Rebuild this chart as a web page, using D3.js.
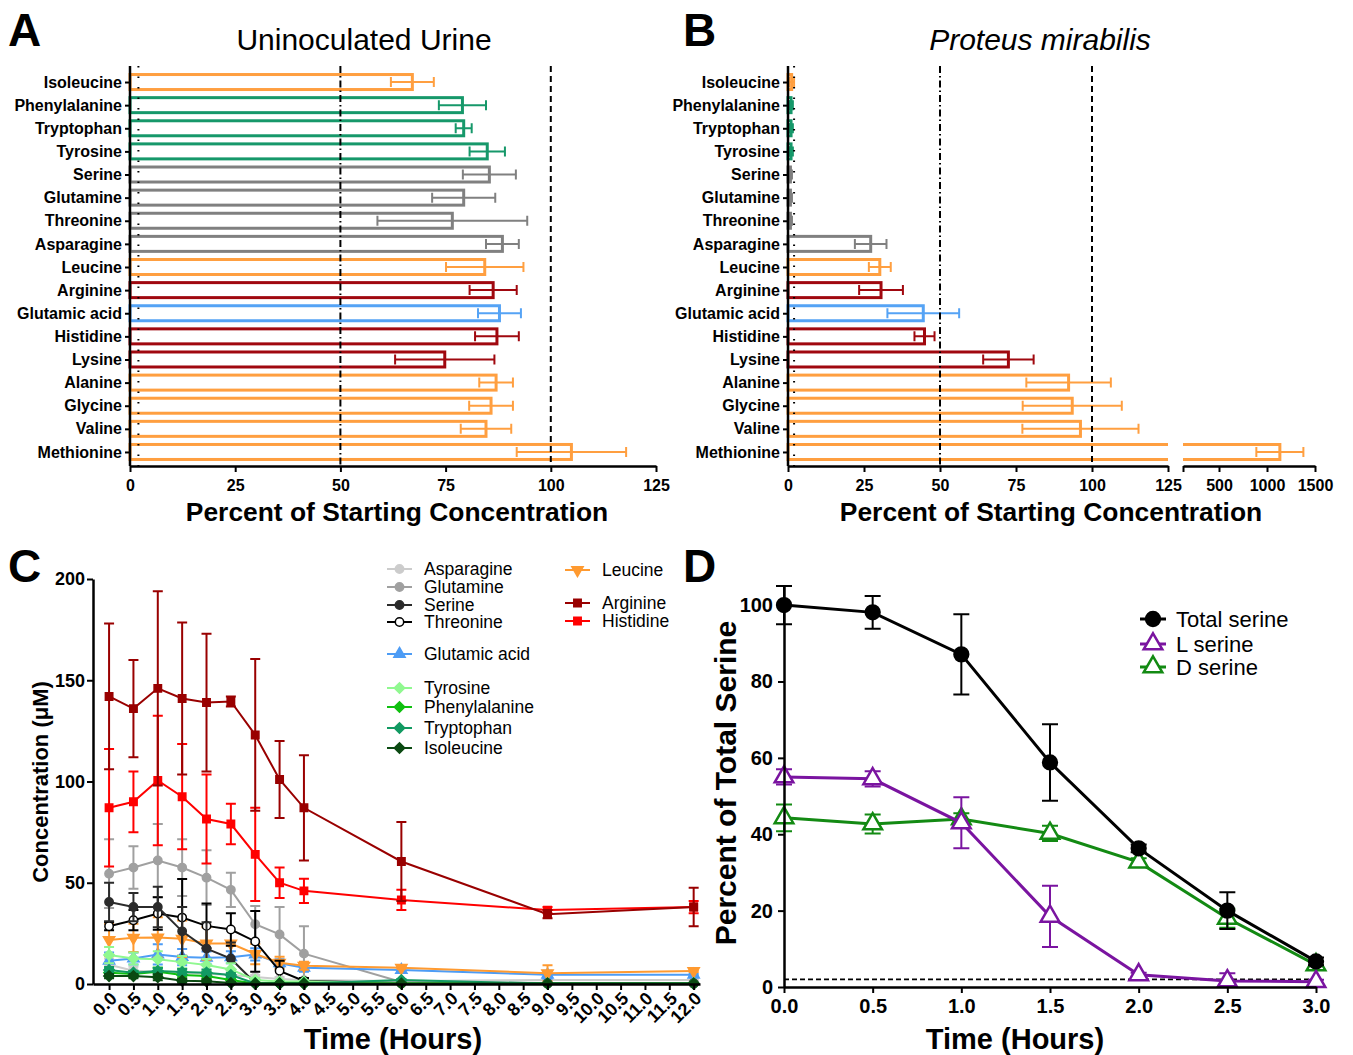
<!DOCTYPE html>
<html>
<head>
<meta charset="utf-8">
<script src="https://cdn.jsdelivr.net/npm/d3@7/dist/d3.min.js"></script>
<style>
  body { margin: 0; background: #fff; }
  svg { display: block; }
</style>
</head>
<body>
<svg id="chart" width="1353" height="1055"></svg>
<script>
"use strict";

// ---------- panels A and B: percent of starting concentration ----------
var aminoAcids = ["Isoleucine", "Phenylalanine", "Tryptophan", "Tyrosine", "Serine", "Glutamine",
  "Threonine", "Asparagine", "Leucine", "Arginine", "Glutamic acid", "Histidine", "Lysine",
  "Alanine", "Glycine", "Valine", "Methionine"];
var aminoClass = ["nonpolar", "aromatic", "aromatic", "aromatic", "polar", "polar", "polar", "polar",
  "nonpolar", "basic", "acidic", "basic", "basic", "nonpolar", "nonpolar", "nonpolar", "nonpolar"];
var urineMean = [67.1, 79.0, 79.3, 84.9, 85.4, 79.3, 76.6, 88.5, 84.3, 86.3, 87.8, 87.2, 74.8, 87.0, 85.8, 84.6, 104.9];
var urineErr = [5.1, 5.6, 1.9, 4.2, 6.3, 7.5, 17.8, 3.9, 9.2, 5.6, 5.1, 5.2, 11.8, 4.0, 5.2, 6.0, 13.0];
var proteusMean = [1.2, 1.0, 1.0, 1.0, 0.8, 0.8, 0.8, 27.2, 30.2, 30.6, 44.5, 44.9, 72.5, 92.3, 93.5, 96.2, 1134];
var proteusErr = [0.8, 0.6, 0.6, 0.6, 0.5, 0.5, 0.5, 5.2, 3.6, 7.2, 11.8, 3.3, 8.3, 13.9, 16.3, 19.1, 245];
var barTicks = [0, 25, 50, 75, 100, 125];
var highTicks = [125, 500, 1000, 1500];

// ---------- panel C: concentration over time (uM) ----------
var times = [0, 0.5, 1, 1.5, 2, 2.5, 3, 3.5, 4, 6, 9, 12];
var asparagine = [9.5, 6.5, 6, 5.5, 5, 4.5, 3.5, 2.5, 2, 1.5, 2, 2];
var asparagineSd = [3, 2, 2, 2, 2, 2, 1, 1, 1, 0.5, 0.5, 0.5];
var glutamine = [54.5, 57.5, 61, 57.5, 52.5, 46.5, 29.5, 24.5, 15, 1, 0.5, 0.5];
var glutamineSd = [17, 10.5, 18, 14, 13.5, 8.5, 9, 13.5, 13.5, 0.5, 0.3, 0.3];
var serine = [40.5, 38, 38, 26, 17.5, 12.5, 0.5, 0.5, 0.5, 0.3, 0.3, 0.3];
var serineSd = [9.5, 7, 10, 12, 13, 8, 0.5, 0.5, 0.5, 0.2, 0.2, 0.2];
var threonine = [28.5, 31.5, 34.8, 32.8, 28.7, 26.9, 21, 6.5, 1.5, 0.5, 0.3, 0.3];
var threonineSd = [2, 5, 8, 19, 11, 8, 15, 5, 1.5, 0.3, 0.2, 0.2];
var glutamicAcid = [11.5, 12.6, 14.6, 13.3, 13, 13.2, 14.6, 10.2, 8, 6.9, 4.6, 4.6];
var glutamicAcidSd = [4, 3, 5, 4, 3, 3, 3, 2, 2, 1.5, 2, 0.5];
var tyrosine = [14.3, 12.6, 12.2, 10.8, 9.4, 7.2, 2, 1.2, 1.2, 0.5, 0.3, 0.3];
var tyrosineSd = [4, 3, 4, 3, 3, 3, 1, 0.5, 0.5, 0.2, 0.2, 0.2];
var phenylalanine = [5.6, 4.9, 6, 4.4, 3.9, 2, 0.3, 0.3, 0.3, 0.3, 0.2, 0.2];
var phenylalanineSd = [1.5, 1.5, 2, 1.5, 1.5, 1, 0.2, 0.2, 0.2, 0.2, 0.2, 0.2];
var tryptophan = [6.9, 5.6, 6.4, 5.9, 5.6, 4.4, 0.3, 0.3, 0.3, 2, 0.2, 0.2];
var tryptophanSd = [1.5, 1, 1.5, 1.5, 1.5, 1, 0.2, 0.2, 0.2, 0.5, 0.2, 0.2];
var isoleucine = [3.9, 3.9, 3.3, 1.6, 1.3, 0.5, 0.2, 0.2, 0.2, 0.2, 0.2, 0.2];
var isoleucineSd = [1, 1, 1.5, 1, 1, 0.5, 0.2, 0.2, 0.2, 0.2, 0.2, 0.2];
var leucine = [21.7, 22.8, 23, 22.3, 20, 20, 14.8, 10.5, 9, 8, 5.3, 6.4];
var leucineSd = [8, 7, 10, 9, 8, 1, 5, 3, 2, 0.5, 4, 0.5];
var arginine = [142, 136, 146, 141, 139, 139.5, 123, 101, 87, 60.5, 34.5, 38];
var arginineSd = [36, 24, 48, 37.5, 34, 2.5, 37.5, 19, 26, 19.5, 2, 9.5];
var histidine = [87, 90, 100.5, 92.5, 81.5, 79, 64, 50, 46, 41.5, 36.5, 38];
var histidineSd = [29, 15, 32, 26, 22, 10, 23, 7.5, 6, 5, 1.5, 3];

// ---------- panel D: percent of total serine ----------
var serineTimes = [0, 0.5, 1, 1.5, 2, 2.5, 3];
var totalSerine = [100, 98.1, 87.1, 58.8, 36.3, 20, 6.7];
var totalSerineSd = [5, 4.3, 10.5, 10, 1, 4.8, 1];
var lSerine = [55, 54.5, 43, 18.5, 3.2, 1.6, 1.4];
var lSerineSd = [2, 2, 6.7, 8, 0.5, 2, 0.5];
var dSerine = [44.3, 42.7, 44, 40.2, 32.7, 18, 5.8];
var dSerineSd = [3.5, 2.5, 1.5, 2, 1, 2.5, 1];
var detectionLimit = 2;

var FONT = '"Liberation Sans", Arial, Helvetica, sans-serif';
var classColor = { nonpolar: "#ff9f40", aromatic: "#16986a", polar: "#808080", basic: "#a0080f", acidic: "#55a3f5" };

var svg = d3.select("#chart");

function label(txt, x, y, size, opts) {
  opts = opts || {};
  var t = svg.append("text")
    .attr("x", x).attr("y", y)
    .attr("font-family", FONT)
    .attr("font-size", size)
    .attr("font-weight", opts.bold ? "bold" : "normal")
    .attr("font-style", opts.italic ? "italic" : "normal")
    .attr("text-anchor", opts.anchor || "start")
    .attr("fill", "#000")
    .text(txt);
  if (opts.rotate) t.attr("transform", `rotate(${opts.rotate},${x},${y})`);
  return t;
}

function styleAxis(sel, size) {
  sel.select(".domain").attr("stroke", "#000").attr("stroke-width", 2.5);
  sel.selectAll(".tick line").attr("stroke", "#000").attr("stroke-width", 2);
  sel.selectAll(".tick text")
    .attr("font-family", FONT)
    .attr("font-weight", "bold")
    .attr("font-size", size)
    .attr("fill", "#000");
}

// bar chart with error bars, xHigh is the scale after the axis break (B only)
function barPanel(means, errs, xLow, xHigh) {
  var g = svg.append("g");
  var y = d3.scalePoint().domain(aminoAcids).range([67, 467]).padding(0.65);
  var x0 = xLow(0);
  var h = 15;
  aminoAcids.forEach(function (name, i) {
    var color = classColor[aminoClass[i]];
    var m = means[i], e = errs[i];
    var cy = y(name);
    var xs = m > 125 ? xHigh : xLow;
    if (m <= 125) {
      g.append("rect")
        .attr("x", x0).attr("y", cy - h / 2)
        .attr("width", xLow(m) - x0).attr("height", h)
        .attr("fill", "#fff").attr("stroke", color).attr("stroke-width", 3);
    } else {
      // broken bar: open on the right of the low part, open on the left of the high part
      g.append("path")
        .attr("d", `M${xLow(125)},${cy - h / 2}H${x0}V${cy + h / 2}H${xLow(125)}`)
        .attr("fill", "none").attr("stroke", color).attr("stroke-width", 3);
      g.append("path")
        .attr("d", `M${xHigh(125)},${cy - h / 2}H${xHigh(m)}V${cy + h / 2}H${xHigh(125)}`)
        .attr("fill", "none").attr("stroke", color).attr("stroke-width", 3);
    }
    var a = xs(m - e), b = xs(m + e);
    g.append("path")
      .attr("d", `M${a},${cy}H${b}M${a},${cy - 5}V${cy + 5}M${b},${cy - 5}V${cy + 5}`)
      .attr("fill", "none").attr("stroke", color).attr("stroke-width", 2);
  });
  // reference lines: 2 %, 50 %, 100 %
  [[2, "1.5,9"], [50, "7,3,1.5,3"], [100, "6,4"]].forEach(function (r) {
    g.append("line")
      .attr("x1", xLow(r[0])).attr("x2", xLow(r[0]))
      .attr("y1", 66).attr("y2", 466)
      .attr("stroke", "#000").attr("stroke-width", 2)
      .attr("stroke-dasharray", r[1]);
  });
  g.append("g")
    .attr("transform", `translate(${x0},0)`)
    .call(d3.axisLeft(y).tickSize(5).tickPadding(3).tickSizeOuter(0))
    .call(styleAxis, 16)
    .call((a) => a.select(".domain").attr("d", "M0,66V466"));
  g.append("g")
    .attr("transform", "translate(0,466)")
    .call(d3.axisBottom(xLow).tickValues(barTicks).tickSize(6).tickPadding(8).tickSizeOuter(0))
    .call(styleAxis, 16);
  if (xHigh) {
    g.append("g")
      .attr("transform", "translate(0,466)")
      .call(d3.axisBottom(xHigh).tickValues(highTicks).tickSize(6).tickPadding(8).tickSizeOuter(0)
        .tickFormat((d) => (d === 125 ? "" : d)))
      .call(styleAxis, 16);
  }
}

var xA = d3.scaleLinear().domain([0, 125]).range([130, 656]);
barPanel(urineMean, urineErr, xA);
var xB = d3.scaleLinear().domain([0, 125]).range([788, 1168]);
var xBhigh = d3.scaleLinear().domain([125, 1500]).range([1183, 1315]);
barPanel(proteusMean, proteusErr, xB, xBhigh);

label("Uninoculated Urine", 364, 50, 30, { anchor: "middle" });
label("Proteus mirabilis", 1040, 50, 30, { anchor: "middle", italic: true });
label("Percent of Starting Concentration", 397, 521, 26.4, { anchor: "middle", bold: true });
label("Percent of Starting Concentration", 1051, 521, 26.4, { anchor: "middle", bold: true });

// ---------- line chart helpers ----------
var symbols = {
  circle: { type: d3.symbolCircle, rot: 0 },
  triangle: { type: d3.symbolTriangle, rot: 0 },
  triangleDown: { type: d3.symbolTriangle, rot: 180 },
  square: { type: d3.symbolSquare, rot: 0 },
  diamond: { type: d3.symbolSquare, rot: 45 }
};

function drawMarker(g, sym, size, cx, cy, color, fill, sw) {
  g.append("path")
    .attr("d", d3.symbol().type(symbols[sym].type).size(size)())
    .attr("transform", `translate(${cx},${cy}) rotate(${symbols[sym].rot})`)
    .attr("fill", fill || color)
    .attr("stroke", color)
    .attr("stroke-width", sw);
}

function drawSeries(g, x, y, ts, s, st) {
  var line = d3.line().x((d, i) => x(ts[i])).y((d) => y(d));
  g.append("path")
    .attr("d", line(s.values))
    .attr("fill", "none")
    .attr("stroke", s.color)
    .attr("stroke-width", st.lineWidth);
  s.values.forEach(function (v, i) {
    var cx = x(ts[i]);
    var y1 = y(v + s.sd[i]), y2 = y(Math.max(0, v - s.sd[i]));
    var c = st.cap;
    g.append("path")
      .attr("d", `M${cx},${y1}V${y2}M${cx - c},${y1}H${cx + c}M${cx - c},${y2}H${cx + c}`)
      .attr("fill", "none").attr("stroke", s.color).attr("stroke-width", st.errWidth);
  });
  s.values.forEach(function (v, i) {
    drawMarker(g, s.symbol, st.marker, x(ts[i]), y(v), s.color, s.fill, st.markerStroke);
  });
}

// ---------- panel C ----------
var cSeries = [
  { name: "Asparagine", values: asparagine, sd: asparagineSd, color: "#cccccc", symbol: "circle" },
  { name: "Glutamine", values: glutamine, sd: glutamineSd, color: "#a0a0a0", symbol: "circle" },
  { name: "Glutamic acid", values: glutamicAcid, sd: glutamicAcidSd, color: "#4d9cf5", symbol: "triangle" },
  { name: "Leucine", values: leucine, sd: leucineSd, color: "#ff9a30", symbol: "triangleDown" },
  { name: "Threonine", values: threonine, sd: threonineSd, color: "#000000", symbol: "circle", fill: "#fff" },
  { name: "Serine", values: serine, sd: serineSd, color: "#2b2b2b", symbol: "circle" },
  { name: "Tyrosine", values: tyrosine, sd: tyrosineSd, color: "#90f890", symbol: "diamond" },
  { name: "Phenylalanine", values: phenylalanine, sd: phenylalanineSd, color: "#10c010", symbol: "diamond" },
  { name: "Tryptophan", values: tryptophan, sd: tryptophanSd, color: "#129a62", symbol: "diamond" },
  { name: "Isoleucine", values: isoleucine, sd: isoleucineSd, color: "#0b4a12", symbol: "diamond" },
  { name: "Histidine", values: histidine, sd: histidineSd, color: "#ff0000", symbol: "square" },
  { name: "Arginine", values: arginine, sd: arginineSd, color: "#990000", symbol: "square" }
];
var cStyle = { lineWidth: 2, errWidth: 2, cap: 5, marker: 55, markerStroke: 1.5 };

var xC = d3.scaleLinear().domain([-0.33, 12.13]).range([93, 700]);
var yC = d3.scaleLinear().domain([0, 200]).range([984, 579]);
var gC = svg.append("g");
cSeries.forEach((s) => drawSeries(gC, xC, yC, times, s, cStyle));

gC.append("g")
  .attr("transform", "translate(93,0)")
  .call(d3.axisLeft(yC).tickValues([0, 50, 100, 150, 200]).tickSize(6).tickPadding(2).tickSizeOuter(0))
  .call(styleAxis, 18);
gC.append("g")
  .attr("transform", "translate(0,984)")
  .call(d3.axisBottom(xC).tickValues(d3.range(0, 12.01, 0.5)).tickFormat(d3.format(".1f"))
    .tickSize(6).tickSizeOuter(0))
  .call(styleAxis, 18)
  .call((g) => g.selectAll(".tick text")
    .attr("text-anchor", "end")
    .attr("dy", null)
    .attr("x", -5)
    .attr("y", 17)
    .attr("transform", "rotate(-45)"));

// legend for C
var cLegend = [
  ["Asparagine", 387, 569], ["Glutamine", 387, 587], ["Serine", 387, 605], ["Threonine", 387, 622],
  ["Glutamic acid", 387, 654], ["Tyrosine", 387, 688], ["Phenylalanine", 387, 707],
  ["Tryptophan", 387, 728], ["Isoleucine", 387, 748],
  ["Leucine", 565, 570], ["Arginine", 565, 603], ["Histidine", 565, 621]
];
cLegend.forEach(function (row) {
  var s = cSeries.find((d) => d.name === row[0]);
  gC.append("line")
    .attr("x1", row[1]).attr("x2", row[1] + 25)
    .attr("y1", row[2]).attr("y2", row[2])
    .attr("stroke", s.color).attr("stroke-width", 2);
  drawMarker(gC, s.symbol, 55, row[1] + 12.5, row[2], s.color, s.fill, 1.5);
  label(row[0], row[1] + 37, row[2] + 6, 17.5);
});

label("Concentration (\u03bcM)", 48, 782, 22, { anchor: "middle", bold: true, rotate: -90 });
label("Time (Hours)", 393, 1049, 29, { anchor: "middle", bold: true });

// ---------- panel D ----------
var dSeries = [
  { name: "D serine", values: dSerine, sd: dSerineSd, color: "#138a13", symbol: "triangle", fill: "#fff" },
  { name: "L serine", values: lSerine, sd: lSerineSd, color: "#7a14a0", symbol: "triangle", fill: "#fff" },
  { name: "Total serine", values: totalSerine, sd: totalSerineSd, color: "#000000", symbol: "circle" }
];
var dStyle = { lineWidth: 3, errWidth: 2, cap: 8, marker: 150, markerStroke: 2.5 };

var xD = d3.scaleLinear().domain([0, 3]).range([784, 1316]);
var yD = d3.scaleLinear().domain([0, 105]).range([987, 586]);
var gD = svg.append("g");

gD.append("line")
  .attr("x1", xD(0)).attr("x2", xD(3))
  .attr("y1", yD(detectionLimit)).attr("y2", yD(detectionLimit))
  .attr("stroke", "#000").attr("stroke-width", 1.8).attr("stroke-dasharray", "5,3");

dSeries.forEach((s) => drawSeries(gD, xD, yD, serineTimes, s, dStyle));

gD.append("g")
  .attr("transform", `translate(${xD(0)},0)`)
  .call(d3.axisLeft(yD).tickValues([0, 20, 40, 60, 80, 100]).tickSize(6).tickPadding(5).tickSizeOuter(0))
  .call(styleAxis, 20);
gD.append("g")
  .attr("transform", `translate(0,${yD(0)})`)
  .call(d3.axisBottom(xD).tickValues(serineTimes).tickFormat(d3.format(".1f")).tickSize(6).tickPadding(6).tickSizeOuter(0))
  .call(styleAxis, 20);

[["Total serine", 619], ["L serine", 644], ["D serine", 667]].forEach(function (row) {
  var s = dSeries.find((d) => d.name === row[0]);
  gD.append("line")
    .attr("x1", 1140).attr("x2", 1166)
    .attr("y1", row[1]).attr("y2", row[1])
    .attr("stroke", s.color).attr("stroke-width", 3);
  drawMarker(gD, s.symbol, 150, 1153, row[1], s.color, s.fill, 2.5);
  label(row[0], 1176, row[1] + 7.5, 22);
});

label("Percent of Total Serine", 736, 783, 30, { anchor: "middle", bold: true, rotate: -90 });
label("Time (Hours)", 1015, 1049, 29, { anchor: "middle", bold: true });

// panel letters
label("A", 8, 46, 46, { bold: true });
label("B", 683, 46, 46, { bold: true });
label("C", 8, 582, 46, { bold: true });
label("D", 683, 582, 46, { bold: true });
</script>
</body>
</html>
